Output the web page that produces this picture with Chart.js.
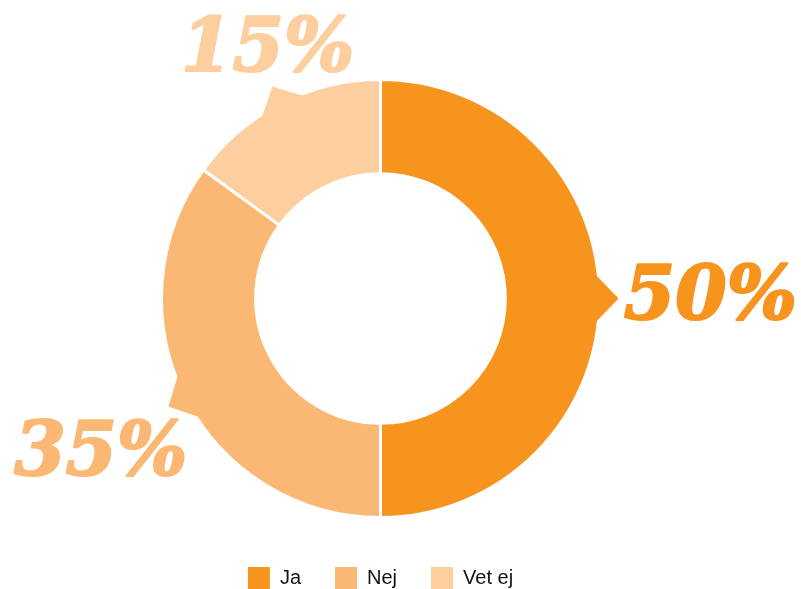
<!DOCTYPE html>
<html>
<head>
<meta charset="utf-8">
<title>Ja / Nej / Vet ej</title>
<script src="https://cdn.jsdelivr.net/npm/chart.js"></script>
<style>
  html, body { margin: 0; padding: 0; background: #fff; }
  #wrap { width: 801px; height: 589px; }
</style>
</head>
<body>
<div id="wrap"><canvas id="pieChart" width="801" height="589"></canvas></div>
<script>
const answers = ["Ja", "Nej", "Vet ej"];
const shares = [50, 35, 15];
const answerColors = ["#F7941E", "#FBB875", "#FDCE9E"];

// big percentage labels with a small pointer at each slice
const pointerLabels = {
    id: "pointerLabels",
    afterDatasetsDraw(chart, args, opts) {
        const ctx = chart.ctx;
        const meta = chart.getDatasetMeta(0);
        const values = chart.data.datasets[0].data;
        const total = values.reduce((a, b) => a + b, 0);
        const size = 74;
        const capHeight = 0.74 * size; // digit height of DejaVu Serif
        ctx.save();
        ctx.font = "italic bold " + size + "px 'DejaVu Serif'";
        ctx.lineJoin = "round";
        ctx.lineWidth = 2.2;
        ctx.textAlign = "center";
        ctx.textBaseline = "alphabetic";
        meta.data.forEach((arc, i) => {
            const p = arc.getProps(["x", "y", "startAngle", "endAngle", "outerRadius"], true);
            const mid = (p.startAngle + p.endAngle) / 2;
            const dx = Math.cos(mid), dy = Math.sin(mid);
            const px = -dy, py = dx;
            const color = answerColors[i];

            // pointer
            const rb = p.outerRadius - 6, rt = p.outerRadius + 19, hw = 26;
            ctx.fillStyle = color;
            ctx.strokeStyle = color;
            ctx.beginPath();
            ctx.moveTo(p.x + dx * rb + px * hw, p.y + dy * rb + py * hw);
            ctx.lineTo(p.x + dx * rt, p.y + dy * rt);
            ctx.lineTo(p.x + dx * rb - px * hw, p.y + dy * rb - py * hw);
            ctx.closePath();
            ctx.fill();

            // label
            const place = opts.placement[i];
            const cx = p.x + dx * place.r + px * place.t;
            const cy = p.y + dy * place.r + py * place.t;
            const text = Math.round(values[i] / total * 100) + "%";
            ctx.fillText(text, cx, cy + capHeight / 2);
            ctx.strokeText(text, cx, cy + capHeight / 2);
        });
        ctx.restore();
    }
};

new Chart(document.getElementById("pieChart").getContext("2d"), {
    type: "doughnut",
    data: {
        labels: answers,
        datasets: [{
            data: shares,
            backgroundColor: answerColors,
            borderColor: "#ffffff",
            borderWidth: 3,
            radius: 219,
            cutout: "57%"
        }]
    },
    options: {
        responsive: false,
        animation: false,
        layout: {
            padding: { top: 64, bottom: -10, left: 0, right: 40 }
        },
        plugins: {
            legend: {
                position: "bottom",
                labels: {
                    boxWidth: 22,
                    boxHeight: 22,
                    padding: 34,
                    color: "#111111",
                    font: { family: "'Liberation Sans', Arial, sans-serif", size: 20 },
                    generateLabels(chart) {
                        const items = Chart.overrides.doughnut.plugins.legend.labels.generateLabels(chart);
                        return items.map((it) => ({ ...it, lineWidth: 0, strokeStyle: it.fillStyle }));
                    }
                }
            },
            tooltip: { enabled: false },
            pointerLabels: {
                placement: [
                    { r: 330, t: -7 },
                    { r: 317, t: -6 },
                    { r: 278, t: 15 }
                ]
            }
        }
    },
    plugins: [pointerLabels]
});
</script>
</body>
</html>
